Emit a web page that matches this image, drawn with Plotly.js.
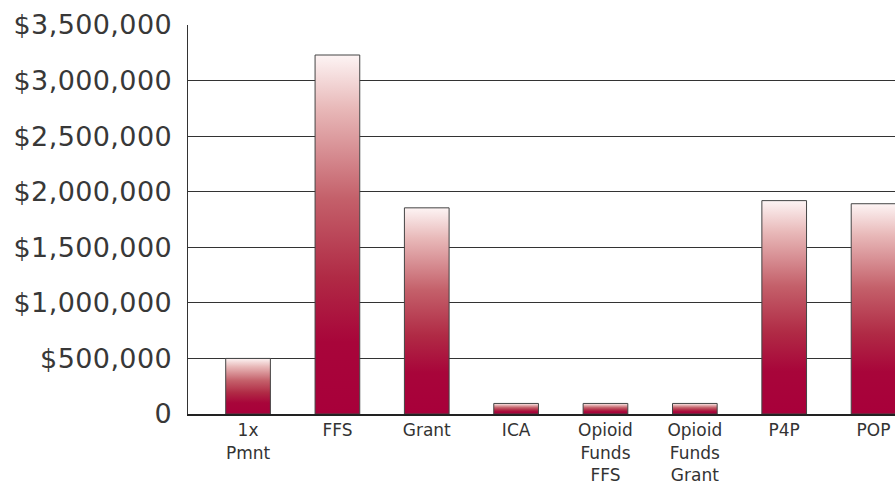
<!DOCTYPE html>
<html>
<head>
<meta charset="utf-8">
<script src="https://cdn.plot.ly/plotly-3.0.1.min.js"></script>
<style>
  html, body { margin: 0; padding: 0; background: #ffffff; }
  #chart { width: 895px; height: 485px; }
</style>
</head>
<body>
<div id="chart"></div>
<script>
// ---- data ----
const categories = ["1x<br>Pmnt", "FFS", "Grant", "ICA", "Opioid<br>Funds<br>FFS", "Opioid<br>Funds<br>Grant", "P4P", "POP"];
const amounts = [500000, 3230000, 1855000, 95000, 95000, 95000, 1920000, 1892000];
const yTickValues = [0, 500000, 1000000, 1500000, 2000000, 2500000, 3000000, 3500000];
const yTickLabels = ["0", "$500,000", "$1,000,000", "$1,500,000", "$2,000,000", "$2,500,000", "$3,000,000", "$3,500,000"];

const trace = {
  type: "bar",
  x: categories,
  y: amounts,
  width: 0.5,
  marker: { color: "#a8003a", line: { color: "#444444", width: 1 } },
  hoverinfo: "none"
};

const layout = {
  width: 895,
  height: 485,
  margin: { l: 188, r: 0, t: 25, b: 71 },
  paper_bgcolor: "#ffffff",
  plot_bgcolor: "#ffffff",
  showlegend: false,
  font: { family: "DejaVu Sans, sans-serif", color: "#333333" },
  xaxis: {
    type: "category",
    range: [-0.672, 7.24],
    showgrid: false,
    showline: true,
    linecolor: "#222222",
    linewidth: 2,
    ticks: "",
    tickfont: { size: 17, color: "#333333" },
    tickangle: 0,
    automargin: false
  },
  yaxis: {
    range: [0, 3500000],
    tickvals: yTickValues,
    ticktext: yTickLabels,
    showgrid: true,
    gridcolor: "#333333",
    gridwidth: 1,
    zeroline: false,
    showline: true,
    linecolor: "#333333",
    linewidth: 1.5,
    ticks: "",
    ticklabelstandoff: 9,
    tickfont: { size: 27, color: "#383838" },
    automargin: false
  }
};

Plotly.newPlot("chart", [trace], layout, { displayModeBar: false, staticPlot: true }).then(function (gd) {
  const svgNS = "http://www.w3.org/2000/svg";
  const svg = gd.querySelector("svg.main-svg");
  let defs = svg.querySelector("defs");
  if (!defs) { defs = document.createElementNS(svgNS, "defs"); svg.insertBefore(defs, svg.firstChild); }
  const grad = document.createElementNS(svgNS, "linearGradient");
  grad.setAttribute("id", "barGrad");
  grad.setAttribute("x1", "0"); grad.setAttribute("y1", "0");
  grad.setAttribute("x2", "0"); grad.setAttribute("y2", "1");
  const stops = [["0%", "#fdf4f4"], ["15%", "#e8b8b8"], ["40%", "#c4606a"], ["62%", "#b02a45"], ["80%", "#a8053a"], ["100%", "#a8003a"]];
  stops.forEach(function (s) {
    const st = document.createElementNS(svgNS, "stop");
    st.setAttribute("offset", s[0]);
    st.setAttribute("stop-color", s[1]);
    grad.appendChild(st);
  });
  defs.appendChild(grad);
  gd.querySelectorAll(".bars .point path").forEach(function (p) {
    p.style.fill = "url(#barGrad)";
    p.style.fillOpacity = "1";
  });
  gd.querySelectorAll(".ytick text").forEach(function (t) {
    t.style.letterSpacing = "0.4px";
  });
});
</script>
</body>
</html>
